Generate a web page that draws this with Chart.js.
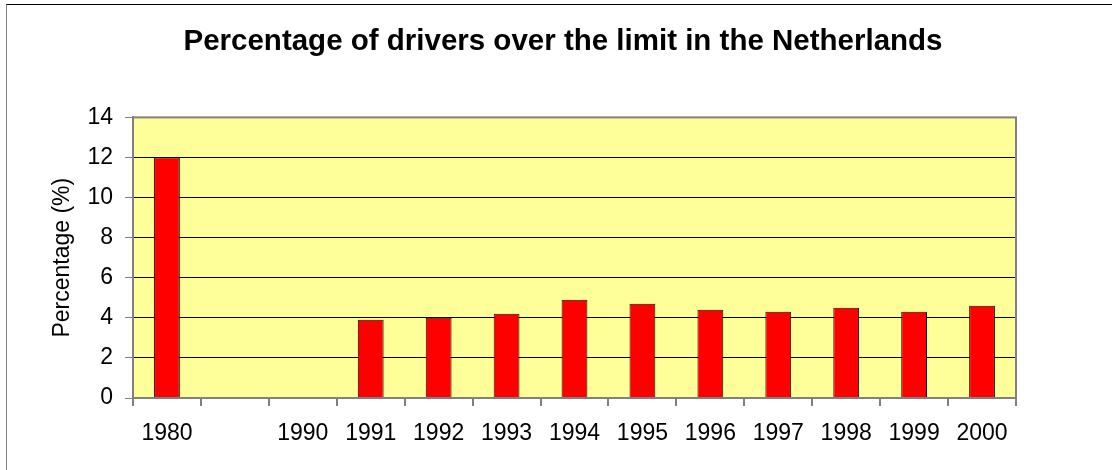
<!DOCTYPE html>
<html>
<head>
<meta charset="utf-8">
<script src="https://cdn.jsdelivr.net/npm/chart.js@4/dist/chart.umd.min.js"></script>
<style>
  html, body { margin:0; padding:0; background:#fff; overflow:hidden; }
  #frame {
    position:absolute; left:6px; top:4px; width:1112px; height:470px;
    border-top:1px solid #000; border-left:1px solid #808080;
  }
  canvas { display:block; }
</style>
</head>
<body>
<div id="frame"><canvas id="chart" width="1112" height="465"></canvas></div>
<script>
var years = ['1980', '', '1990', '1991', '1992', '1993', '1994', '1995', '1996', '1997', '1998', '1999', '2000'];
var percentages = [12, null, null, 3.9, 4.0, 4.2, 4.9, 4.7, 4.4, 4.3, 4.5, 4.3, 4.6];
var yTicks = [0, 2, 4, 6, 8, 10, 12, 14];

var fontName = '"Liberation Sans", Arial, sans-serif';

// yellow plot background and grey plot border
var plotFrame = {
	id:'plotFrame',
	beforeDraw:function(chart) {
		var a = chart.chartArea;
		var ctx = chart.ctx;
		ctx.save();
		ctx.fillStyle = '#FFFF99';
		ctx.fillRect(a.left, a.top, a.right - a.left, a.bottom - a.top);
		ctx.restore();
	},
	afterDraw:function(chart) {
		var a = chart.chartArea;
		var ctx = chart.ctx;
		ctx.save();
		ctx.strokeStyle = '#808080';
		ctx.lineWidth = 2;
		ctx.strokeRect(a.left, a.top, a.right - a.left, a.bottom - a.top);
		ctx.restore();
	}
};

var ctx = document.getElementById('chart').getContext('2d');
new Chart(ctx, {
	type:'bar',
	data:{
		labels:years,
		datasets:[{
			data:percentages,
			backgroundColor:'#FF0000',
			borderColor:'#111111',
			borderWidth:1,
			barPercentage:0.38,
			categoryPercentage:1.0
		}]
	},
	options:{
		responsive:false,
		animation:false,
		layout:{padding:0},
		plugins:{
			legend:{display:false},
			tooltip:{enabled:false},
			title:{
				display:true,
				text:'Percentage of drivers over the limit in the Netherlands',
				color:'#000',
				font:{family:fontName, size:29.5, weight:'bold', lineHeight:1.2},
				padding:{top:19, bottom:58}
			}
		},
		scales:{
			x:{
				offset:true,
				grid:{drawOnChartArea:false, tickColor:'#808080', tickLength:8, lineWidth:2, offset:true},
				border:{color:'#808080', width:2},
				ticks:{color:'#000', font:{family:fontName, size:23}, padding:14, maxRotation:0, autoSkip:false},
				afterFit:function(scale) { scale.height = 72; }
			},
			y:{
				min:0,
				max:14,
				afterBuildTicks:function(scale) {
					scale.ticks = yTicks.map(function(v) { return {value:v}; });
				},
				grid:{color:'#000', tickColor:'#808080', tickLength:8, lineWidth:1},
				border:{color:'#808080', width:2},
				ticks:{color:'#000', font:{family:fontName, size:23}, padding:12},
				title:{
					display:true,
					text:'Percentage (%)',
					color:'#000',
					font:{family:fontName, size:23, lineHeight:1.2},
					padding:{top:42, bottom:0}
				},
				afterFit:function(scale) { scale.width = 126; }
			},
			// empty right-hand space, so the title stays centred on the whole chart
			yRight:{
				position:'right',
				min:0,
				max:14,
				grid:{display:false},
				border:{display:false},
				ticks:{display:false},
				afterFit:function(scale) { scale.width = 103; }
			}
		}
	},
	plugins:[plotFrame]
});
</script>
</body>
</html>
